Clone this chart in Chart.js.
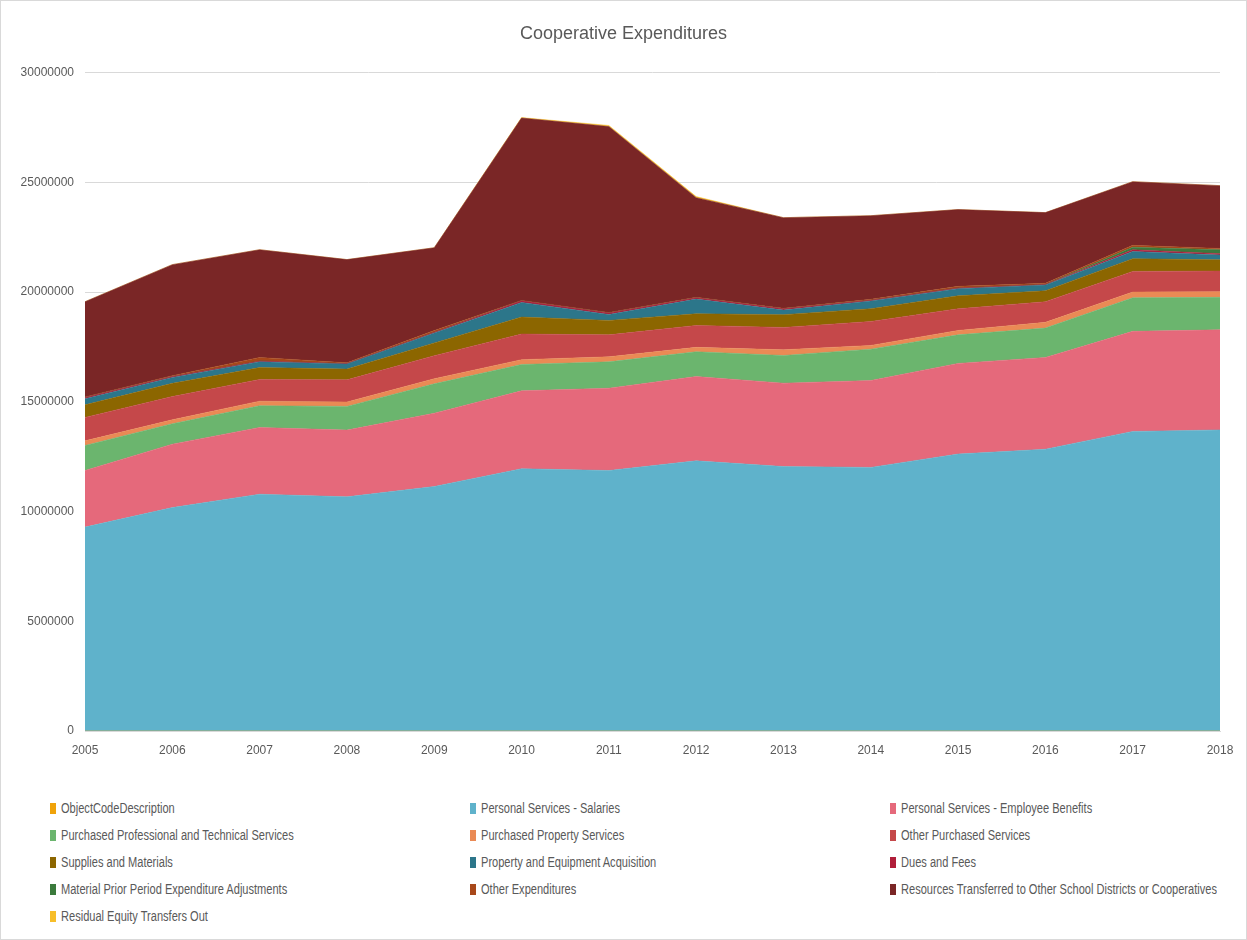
<!DOCTYPE html>
<html>
<head>
<meta charset="utf-8">
<script src="https://cdn.jsdelivr.net/npm/chart.js@4.4.1/dist/chart.umd.min.js"></script>
<style>
  html, body { margin: 0; padding: 0; background: #fff; }
  #wrap { position: relative; width: 1245px; height: 938px; border: 1px solid #d9d9d9; overflow: hidden; }
  #chartBox { position: absolute; left: -1px; top: -1px; width: 1247px; height: 770px; }
  #legend { position: absolute; left: 49px; top: 798px; width: 1200px;
            display: grid; grid-template-columns: 420px 420px 360px; row-gap: 9px;
            font-family: 'Liberation Sans', Arial, sans-serif; font-size: 14px; color: #595959; }
  .item { display: flex; align-items: center; height: 18px; white-space: nowrap; }
  .sw { width: 6px; height: 11px; margin-right: 5px; flex: none; }
  .txt { display: inline-block; transform: scaleX(0.79); transform-origin: left center; }
</style>
</head>
<body>
<div id="wrap">
  <div id="chartBox"><canvas id="areaChart"></canvas></div>
  <div id="legend"></div>
</div>
<script>
// values in dollars
var years = ['2005', '2006', '2007', '2008', '2009', '2010', '2011', '2012', '2013', '2014', '2015', '2016', '2017', '2018'];

var objectCode = [0, 0, 0, 0, 0, 0, 0, 0, 0, 0, 0, 0, 0, 0];
var salaries = [9290000, 10180000, 10790000, 10670000, 11140000, 11950000, 11870000, 12310000, 12050000, 12010000, 12620000, 12840000, 13650000, 13720000];
var benefits = [2580000, 2890000, 3040000, 3040000, 3340000, 3550000, 3750000, 3840000, 3800000, 3960000, 4130000, 4180000, 4560000, 4560000];
var profTech = [1140000, 930000, 990000, 1080000, 1340000, 1200000, 1200000, 1130000, 1260000, 1430000, 1300000, 1340000, 1530000, 1480000];
var propertySvc = [210000, 180000, 210000, 200000, 230000, 220000, 230000, 200000, 260000, 170000, 200000, 260000, 260000, 260000];
var otherPurchased = [1070000, 1060000, 990000, 1010000, 1050000, 1170000, 1000000, 1000000, 1020000, 1090000, 990000, 940000, 940000, 940000];
var supplies = [570000, 600000, 540000, 490000, 580000, 770000, 660000, 530000, 580000, 580000, 590000, 500000, 580000, 510000];
var equipment = [280000, 270000, 260000, 230000, 450000, 670000, 270000, 670000, 210000, 350000, 320000, 260000, 330000, 220000];
var duesFees = [60000, 40000, 40000, 20000, 40000, 70000, 70000, 60000, 60000, 40000, 40000, 30000, 80000, 60000];
var priorPeriod = [0, 0, 0, 0, 0, 0, 0, 0, 0, 0, 0, 0, 110000, 180000];
var otherExp = [20000, 40000, 160000, 40000, 80000, 20000, 20000, 20000, 20000, 40000, 70000, 50000, 90000, 60000];
var transferred = [4340000, 5060000, 4910000, 4700000, 3770000, 8310000, 8470000, 4540000, 4130000, 3810000, 3500000, 3220000, 2900000, 2860000];
var residual = [0, 0, 0, 0, 0, 20000, 50000, 50000, 0, 0, 0, 0, 0, 0];

var yTicks = [0, 5000000, 10000000, 15000000, 20000000, 25000000, 30000000];

var series = [
    ['ObjectCodeDescription', objectCode, '#f0a30a'],
    ['Personal Services - Salaries', salaries, '#5fb2cb'],
    ['Personal Services - Employee Benefits', benefits, '#e5697b'],
    ['Purchased Professional and Technical Services', profTech, '#6bb56e'],
    ['Purchased Property Services', propertySvc, '#ea8a55'],
    ['Other Purchased Services', otherPurchased, '#c5484a'],
    ['Supplies and Materials', supplies, '#8c6600'],
    ['Property and Equipment Acquisition', equipment, '#2c768a'],
    ['Dues and Fees', duesFees, '#b01e3a'],
    ['Material Prior Period Expenditure Adjustments', priorPeriod, '#3b7a3c'],
    ['Other Expenditures', otherExp, '#a8481a'],
    ['Resources Transferred to Other School Districts or Cooperatives', transferred, '#7a2626'],
    ['Residual Equity Transfers Out', residual, '#f7be2a']
];

var font = "'Liberation Sans', Arial, sans-serif";

var datasets = series.map(function (s, i) {
    return {
        label: s[0],
        data: s[1],
        backgroundColor: s[2],
        borderColor: s[2],
        borderWidth: 0.5,
        pointRadius: 0,
        fill: i === 0 ? 'origin' : '-1',
        tension: 0
    };
});

var ctx = document.getElementById('areaChart').getContext('2d');
var chart = new Chart(ctx, {
    type: 'line',
    data: { labels: years, datasets: datasets },
    options: {
        responsive: true,
        maintainAspectRatio: false,
        animation: false,
        layout: { padding: 0 },
        plugins: {
            legend: { display: false },
            tooltip: { enabled: false },
            title: {
                display: true,
                text: 'Cooperative Expenditures',
                color: '#595959',
                font: { family: font, size: 18, weight: 'normal' },
                padding: { top: 23, bottom: 28 }
            }
        },
        scales: {
            x: {
                offset: false,
                grid: { display: false, drawTicks: false },
                border: { color: '#d9d9d9' },
                ticks: { color: '#595959', font: { family: font, size: 12 }, padding: 12, maxRotation: 0 },
                afterFit: function (scale) { scale.height = 39; }
            },
            y: {
                stacked: true,
                min: 0,
                max: 30000000,
                afterBuildTicks: function (scale) {
                    scale.ticks = yTicks.map(function (v) { return { value: v }; });
                },
                grid: { color: '#d9d9d9', drawTicks: false },
                border: { display: false },
                ticks: { color: '#595959', font: { family: font, size: 12 }, padding: 11,
                         callback: function (v) { return String(v); } },
                afterFit: function (scale) { scale.width = 85; }
            },
            // empty right margin so the title stays centred on the whole canvas
            spacer: {
                type: 'linear',
                position: 'right',
                grid: { display: false },
                border: { display: false },
                ticks: { display: false },
                afterFit: function (scale) { scale.width = 27; }
            }
        }
    }
});

// legend in three columns like the original
var legend = document.getElementById('legend');
chart.data.datasets.forEach(function (ds) {
    var item = document.createElement('div');
    item.className = 'item';
    var sw = document.createElement('span');
    sw.className = 'sw';
    sw.style.background = ds.backgroundColor;
    var txt = document.createElement('span');
    txt.className = 'txt';
    txt.textContent = ds.label;
    item.appendChild(sw);
    item.appendChild(txt);
    legend.appendChild(item);
});
</script>
</body>
</html>
